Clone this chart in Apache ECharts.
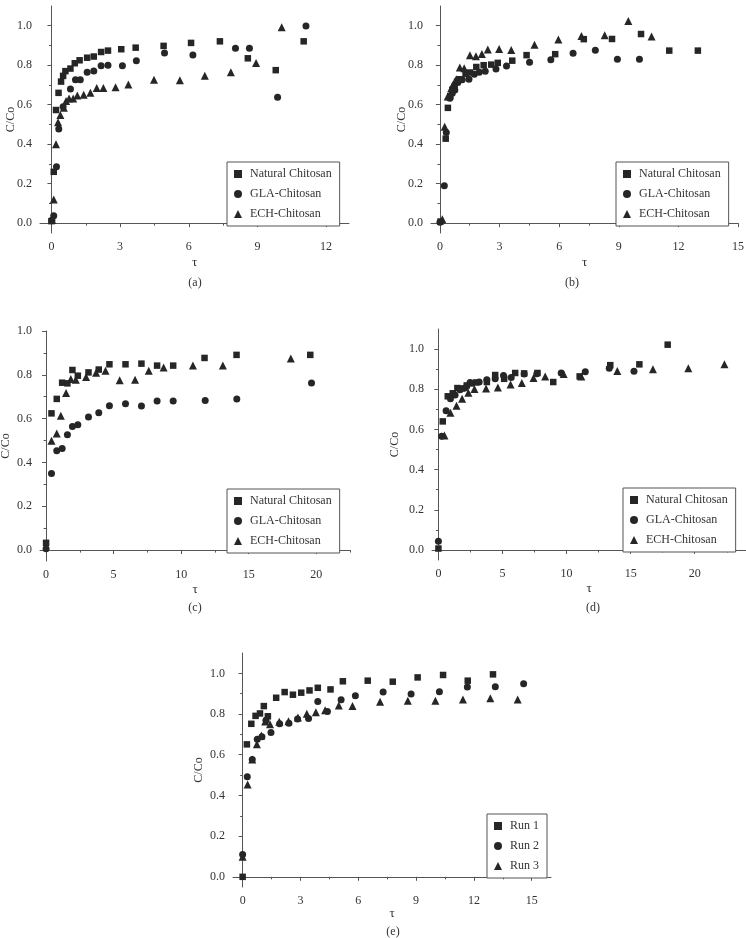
<!DOCTYPE html>
<html>
<head>
<meta charset="utf-8">
<script src="https://cdn.jsdelivr.net/npm/echarts@6/dist/echarts.min.js"></script>
<style>
  html, body { margin: 0; padding: 0; background: #fff; }
  #chart { width: 746px; height: 938px; }
</style>
</head>
<body>
<div id="chart"></div>
<script>
// series names
const namesChitosan = ['Natural Chitosan', 'GLA-Chitosan', 'ECH-Chitosan']
const namesRun = ['Run 1', 'Run 2', 'Run 3']

// tick labels
const yTicks = [0, 0.2, 0.4, 0.6, 0.8, 1.0]
const yMinor = [0.1, 0.3, 0.5, 0.7, 0.9]
const xTicksA = [0, 3, 6, 9, 12]
const xMinorA = [1.5, 4.5, 7.5, 10.5]
const xTicksB = [0, 3, 6, 9, 12, 15]
const xMinorB = [1.5, 4.5, 7.5, 10.5, 13.5]
const xTicksC = [0, 5, 10, 15, 20]
const xMinorC = [2.5, 7.5, 12.5, 17.5, 22.5]

// (a)
const aNatural = [[0, 0.01], [0.1, 0.26], [0.2, 0.573], [0.31, 0.66], [0.42, 0.717], [0.51, 0.746], [0.61, 0.77], [0.83, 0.783], [1.02, 0.81], [1.23, 0.825], [1.56, 0.838], [1.85, 0.844], [2.17, 0.867], [2.47, 0.874], [3.05, 0.881], [3.68, 0.889], [4.9, 0.898], [6.1, 0.913], [7.36, 0.921], [8.58, 0.835], [9.8, 0.775], [11.02, 0.921]]
const aGLA = [[0.02, 0.015], [0.1, 0.037], [0.22, 0.285], [0.32, 0.477], [0.51, 0.59], [0.83, 0.68], [1.05, 0.726], [1.26, 0.726], [1.56, 0.764], [1.85, 0.771], [2.17, 0.797], [2.47, 0.8], [3.1, 0.797], [3.71, 0.822], [4.94, 0.862], [6.18, 0.852], [8.04, 0.886], [8.65, 0.886], [9.88, 0.638], [11.12, 0.999]]
const aECH = [[0.03, 0.017], [0.1, 0.12], [0.2, 0.4], [0.29, 0.511], [0.39, 0.548], [0.54, 0.585], [0.64, 0.619], [0.77, 0.631], [0.95, 0.631], [1.13, 0.646], [1.41, 0.65], [1.7, 0.66], [1.98, 0.685], [2.27, 0.685], [2.8, 0.689], [3.36, 0.702], [4.48, 0.726], [5.61, 0.724], [6.7, 0.747], [7.84, 0.764], [8.94, 0.811], [10.06, 0.992]]

// (b)
const bNatural = [[0.03, 0.008], [0.29, 0.428], [0.4, 0.584], [0.52, 0.643], [0.62, 0.675], [0.74, 0.692], [0.86, 0.717], [1.0, 0.729], [1.29, 0.756], [1.51, 0.763], [1.83, 0.791], [2.2, 0.8], [2.58, 0.803], [2.91, 0.812], [3.64, 0.823], [4.36, 0.851], [5.8, 0.856], [7.24, 0.932], [8.66, 0.933], [10.12, 0.958], [11.54, 0.874], [12.98, 0.874]]
const bGLA = [[0, 0.005], [0.22, 0.189], [0.32, 0.459], [0.5, 0.633], [0.62, 0.658], [0.75, 0.675], [0.9, 0.712], [1.12, 0.726], [1.46, 0.729], [1.73, 0.754], [1.98, 0.764], [2.28, 0.77], [2.82, 0.781], [3.35, 0.796], [4.51, 0.815], [5.58, 0.828], [6.7, 0.861], [7.82, 0.876], [8.93, 0.83], [10.04, 0.83]]
const bECH = [[0.12, 0.02], [0.24, 0.488], [0.39, 0.641], [0.45, 0.643], [0.57, 0.683], [0.67, 0.704], [0.82, 0.729], [1.0, 0.788], [1.22, 0.785], [1.51, 0.851], [1.81, 0.846], [2.11, 0.857], [2.41, 0.879], [2.98, 0.882], [3.59, 0.877], [4.76, 0.904], [5.96, 0.93], [7.12, 0.948], [8.29, 0.952], [9.48, 1.024], [10.65, 0.945]]

// (c)
const cNatural = [[0, 0.033], [0.4, 0.624], [0.79, 0.69], [1.19, 0.764], [1.58, 0.761], [1.95, 0.822], [2.35, 0.796], [3.14, 0.811], [3.9, 0.824], [4.69, 0.848], [5.88, 0.848], [7.06, 0.851], [8.22, 0.842], [9.41, 0.842], [11.73, 0.877], [14.1, 0.891], [19.56, 0.891]]
const cGLA = [[0, 0.006], [0.4, 0.349], [0.79, 0.453], [1.19, 0.464], [1.58, 0.526], [1.95, 0.564], [2.35, 0.572], [3.14, 0.607], [3.9, 0.627], [4.69, 0.659], [5.88, 0.668], [7.06, 0.658], [8.22, 0.68], [9.41, 0.68], [11.78, 0.683], [14.12, 0.69], [19.65, 0.763]]
const cECH = [[0.4, 0.499], [0.79, 0.532], [1.09, 0.613], [1.48, 0.717], [1.83, 0.781], [2.2, 0.778], [2.96, 0.79], [3.7, 0.809], [4.4, 0.819], [5.45, 0.775], [6.59, 0.778], [7.6, 0.818], [8.7, 0.833], [10.87, 0.842], [13.09, 0.842], [18.12, 0.874]]

// (d)
const dNatural = [[0, 0.007], [0.34, 0.64], [0.73, 0.765], [1.12, 0.78], [1.48, 0.806], [1.82, 0.804], [2.21, 0.819], [2.6, 0.829], [2.94, 0.834], [3.78, 0.836], [4.43, 0.871], [5.13, 0.852], [5.99, 0.881], [6.69, 0.879], [7.73, 0.881], [8.96, 0.836], [11.02, 0.864], [13.41, 0.92], [15.68, 0.924], [17.89, 1.022]]
const dGLA = [[0, 0.043], [0.26, 0.566], [0.6, 0.693], [0.94, 0.753], [1.3, 0.771], [1.69, 0.798], [2.08, 0.806], [2.47, 0.834], [3.18, 0.836], [3.78, 0.847], [4.43, 0.852], [5.08, 0.869], [5.68, 0.859], [6.69, 0.876], [7.68, 0.877], [9.58, 0.881], [11.46, 0.887], [13.33, 0.905], [15.26, 0.89]]
const dECH = [[0.47, 0.57], [0.94, 0.683], [1.41, 0.718], [1.85, 0.753], [2.34, 0.783], [2.81, 0.801], [3.72, 0.804], [4.64, 0.809], [5.63, 0.824], [6.51, 0.831], [7.42, 0.856], [8.33, 0.864], [9.77, 0.876], [11.15, 0.864], [13.96, 0.891], [16.74, 0.9], [19.5, 0.905], [22.32, 0.925]]

// (e)
const eRun1 = [[0, 0], [0.22, 0.651], [0.45, 0.752], [0.67, 0.791], [0.9, 0.803], [1.1, 0.839], [1.31, 0.789], [1.74, 0.88], [2.18, 0.908], [2.61, 0.895], [3.04, 0.905], [3.47, 0.916], [3.9, 0.929], [4.56, 0.921], [5.2, 0.961], [6.49, 0.964], [7.79, 0.959], [9.08, 0.98], [10.4, 0.992], [11.68, 0.964], [12.99, 0.995]]
const eRun2 = [[0, 0.11], [0.24, 0.492], [0.5, 0.577], [0.76, 0.676], [1.0, 0.689], [1.21, 0.77], [1.47, 0.709], [1.92, 0.752], [2.4, 0.755], [2.85, 0.776], [3.42, 0.778], [3.9, 0.862], [4.4, 0.812], [5.11, 0.87], [5.85, 0.89], [7.29, 0.908], [8.74, 0.898], [10.21, 0.91], [11.66, 0.933], [13.11, 0.934], [14.58, 0.949]]
const eRun3 = [[0, 0.099], [0.26, 0.454], [0.5, 0.577], [0.74, 0.651], [0.97, 0.694], [1.17, 0.763], [1.42, 0.75], [1.9, 0.762], [2.38, 0.765], [2.87, 0.783], [3.33, 0.801], [3.8, 0.809], [4.28, 0.819], [4.99, 0.842], [5.7, 0.84], [7.13, 0.86], [8.57, 0.865], [10.0, 0.865], [11.43, 0.872], [12.85, 0.878], [14.27, 0.872]]

const FONT = 'Liberation Serif'
const INK = '#262626'
const TEXT = '#333'
const AXIS = '#555'
const symbols = ['rect', 'circle', 'triangle']
const symbolSizes = [6.5, 7, 8]

// layout of the five panels
const panels = [
  { cap: '(a)', grid: { left: 40, top: 6, width: 309, height: 227 }, x: [-0.5, 13], y: [-0.05, 1.1], xt: xTicksA, xm: xMinorA, yGap: 23, xGap: 23, capPos: [195, 283], leg: [227, 162], names: namesChitosan, data: [aNatural, aGLA, aECH] },
  { cap: '(b)', grid: { left: 431, top: 6, width: 307, height: 227 }, x: [-0.45, 15], y: [-0.05, 1.1], xt: xTicksB, xm: xMinorB, yGap: 23, xGap: 23, capPos: [572, 283], leg: [616, 162], names: namesChitosan, data: [bNatural, bGLA, bECH] },
  { cap: '(c)', grid: { left: 40, top: 331, width: 310, height: 230 }, x: [-0.45, 22.5], y: [-0.05, 1.0], xt: xTicksC, xm: xMinorC, yGap: 28, xGap: 22, capPos: [195, 608], leg: [227, 489], names: namesChitosan, data: [cNatural, cGLA, cECH] },
  { cap: '(d)', grid: { left: 432, top: 329, width: 314, height: 231 }, x: [-0.5, 24], y: [-0.05, 1.1], xt: xTicksC, xm: xMinorC, yGap: 31, xGap: 22, capPos: [593, 608], leg: [623, 488], names: namesChitosan, data: [dNatural, dGLA, dECH] },
  { cap: '(e)', grid: { left: 233, top: 653, width: 318, height: 234 }, x: [-0.5, 16], y: [-0.05, 1.1], xt: xTicksB, xm: xMinorB, yGap: 28, xGap: 20, capPos: [393, 932], leg: [487, 814], names: namesRun, data: [eRun1, eRun2, eRun3] },
]

const label = { fontFamily: FONT, fontSize: 12, color: TEXT }
const grid = [], xAxis = [], yAxis = [], series = [], legend = [], graphic = []

panels.forEach((p, i) => {
  grid.push({ ...p.grid, outerBoundsMode: 'none' })
  // main axes with labels and major ticks
  xAxis.push({
    type: 'value', gridIndex: i, min: p.x[0], max: p.x[1], position: 'bottom',
    name: 'τ', nameLocation: 'middle', nameGap: p.xGap, nameMoveOverlap: false,
    nameTextStyle: { ...label, fontSize: 13 },
    axisLine: { lineStyle: { color: AXIS } },
    axisTick: { customValues: p.xt, length: 4, lineStyle: { color: AXIS } },
    axisLabel: { customValues: p.xt, margin: 8, ...label },
    splitLine: { show: false },
  })
  yAxis.push({
    type: 'value', gridIndex: i, min: p.y[0], max: p.y[1], position: 'left',
    name: 'C/Co', nameLocation: 'middle', nameGap: p.yGap, nameMoveOverlap: false,
    nameTextStyle: label,
    axisLine: { show: true, lineStyle: { color: AXIS } },
    axisTick: { show: true, customValues: yTicks, length: 4, lineStyle: { color: AXIS } },
    axisLabel: { customValues: yTicks, margin: 8, formatter: (v) => v.toFixed(1), ...label },
    splitLine: { show: false },
  })
  // overlay axes for the minor ticks
  xAxis.push({
    type: 'value', gridIndex: i, min: p.x[0], max: p.x[1], position: 'bottom',
    axisLine: { show: false }, axisLabel: { show: false }, splitLine: { show: false },
    axisTick: { show: true, customValues: p.xm, length: 2.5, lineStyle: { color: AXIS } },
  })
  yAxis.push({
    type: 'value', gridIndex: i, min: p.y[0], max: p.y[1], position: 'left',
    axisLine: { show: false }, axisLabel: { show: false }, splitLine: { show: false },
    axisTick: { show: true, customValues: yMinor, length: 2.5, lineStyle: { color: AXIS } },
  })

  p.data.forEach((d, k) => {
    series.push({
      name: p.names[k], type: 'scatter', data: d,
      xAxisIndex: i * 2, yAxisIndex: i * 2,
      symbol: symbols[k], symbolSize: symbolSizes[k],
      itemStyle: { color: INK, opacity: 1 },
      emphasis: { disabled: true },
    })
  })

  legend.push({
    orient: 'vertical', left: p.leg[0], top: p.leg[1],
    data: p.names.map((n, k) => ({ name: n, icon: symbols[k] })),
    itemWidth: 8, itemHeight: 8, itemGap: 6,
    padding: [5, 8, 5, 7],
    borderColor: AXIS, borderWidth: 1, borderRadius: 0,
    backgroundColor: '#fff',
    textStyle: { ...label, lineHeight: 14, padding: [0, 0, 0, 3] },
    selectedMode: false,
  })

  graphic.push({
    type: 'text', x: p.capPos[0], y: p.capPos[1],
    style: { text: p.cap, fontFamily: FONT, fontSize: 12, fill: TEXT, align: 'center', verticalAlign: 'middle' },
  })
})

const chart = echarts.init(document.getElementById('chart'), null, { renderer: 'canvas' })
chart.setOption({
  animation: false,
  backgroundColor: '#fff',
  grid, xAxis, yAxis, series, legend, graphic,
})
</script>
</body>
</html>
